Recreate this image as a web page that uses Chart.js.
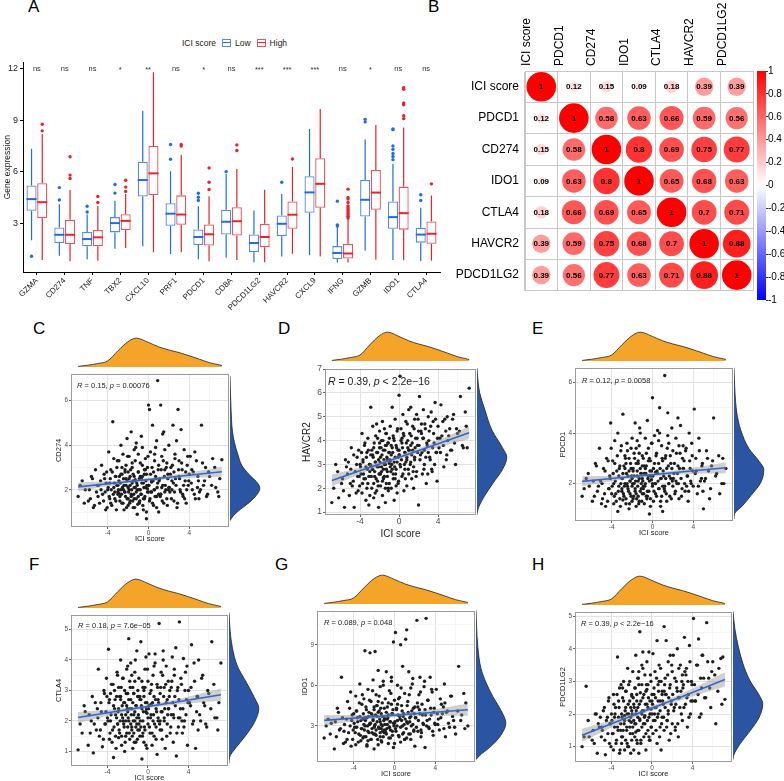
<!DOCTYPE html>
<html>
<head>
<meta charset="utf-8">
<script src="https://cdn.jsdelivr.net/npm/chart.js@4.4.1/dist/chart.umd.min.js"></script>
<style>
  html, body { margin: 0; padding: 0; background: #fff; }
  #page { position: relative; width: 784px; height: 781px; overflow: hidden; font-family: "Liberation Sans", Arial, sans-serif; }
  #page canvas { position: absolute; }
  .tag { position: absolute; font-size: 17px; line-height: 1; color: #000; }
  #legendA { position: absolute; left: 182px; top: 38px; font-size: 8.5px; color: #222; display: flex; align-items: center; white-space: nowrap; }
  .lg-key { display: inline-block; width: 7px; height: 6px; border: 1.2px solid; margin: 0 4px 0 6px;
            background: linear-gradient(currentColor, currentColor) center / 100% 1.2px no-repeat; }
</style>
</head>
<body>
<div id="page">
  <div class="tag" style="left:28px;top:-2px">A</div>
  <div class="tag" style="left:428px;top:-2px">B</div>
  <div class="tag" style="left:33px;top:320px">C</div>
  <div class="tag" style="left:278px;top:320px">D</div>
  <div class="tag" style="left:532px;top:320px">E</div>
  <div class="tag" style="left:29px;top:556px">F</div>
  <div class="tag" style="left:275px;top:556px">G</div>
  <div class="tag" style="left:532px;top:556px">H</div>
  <div id="legendA">
    <span>ICI score</span>
    <span class="lg-key" style="color:#1f6de6;border-color:#4d8ef0"></span><span>Low</span>
    <span class="lg-key" style="color:#e8232b;border-color:#ef5056"></span><span>High</span>
  </div>
</div>
<script>
  // ---------- panel A: expression boxplots ----------
  var genes = ['GZMA', 'CD274', 'TNF', 'TBX2', 'CXCL10', 'PRF1', 'PDCD1', 'CD8A',
               'PDCD1LG2', 'HAVCR2', 'CXCL9', 'IFNG', 'GZMB', 'IDO1', 'CTLA4'];
  var signif = ['ns', 'ns', 'ns', '*', '**', 'ns', '*', 'ns', '***', '***', '***', 'ns', '*', 'ns', 'ns'];
  // [lower whisker, q1, median, q3, upper whisker]
  var lowStats = [
    [2.0, 3.72, 4.4, 5.19, 7.33], [1.1, 1.84, 2.32, 2.75, 4.1], [0.9, 1.65, 2.07, 2.48, 3.5],
    [1.5, 2.46, 3.0, 3.35, 4.3], [1.65, 4.55, 5.51, 6.58, 9.55], [1.2, 2.84, 3.55, 4.16, 6.03],
    [0.9, 1.72, 2.19, 2.63, 3.99], [1.0, 2.34, 3.08, 3.78, 5.87], [0.72, 1.32, 1.84, 2.34, 3.74],
    [1.06, 2.24, 2.96, 3.45, 4.7], [1.12, 3.6, 4.79, 5.73, 8.49], [0.7, 0.91, 1.26, 1.66, 2.77],
    [1.41, 3.39, 4.36, 5.52, 7.88], [0.85, 2.67, 3.35, 4.26, 6.45], [0.79, 1.86, 2.33, 2.73, 3.9]
  ];
  var highStats = [
    [0.85, 3.29, 4.22, 5.32, 8.2], [0.78, 1.78, 2.32, 3.19, 4.93], [0.8, 1.65, 2.17, 2.6, 4.0],
    [1.55, 2.6, 3.13, 3.52, 4.7], [1.3, 4.64, 5.9, 7.5, 11.8], [1.3, 2.9, 3.5, 4.62, 6.98],
    [0.77, 1.69, 2.35, 2.92, 4.57], [0.85, 2.28, 3.11, 3.93, 6.16], [0.72, 1.6, 2.19, 2.96, 4.94],
    [1.22, 2.67, 3.49, 4.26, 6.27], [1.05, 3.9, 5.29, 6.78, 9.65], [0.7, 0.93, 1.23, 1.79, 3.25],
    [0.86, 3.78, 4.78, 6.1, 8.72], [0.83, 2.62, 3.58, 5.13, 8.58], [0.8, 1.8, 2.38, 3.1, 4.61]
  ];
  var lowOutliers = [
    [1.07], [4.35, 5.07], [3.65, 3.98], [4.75, 5.25], [], [6.72, 7.58], [4.32, 4.51, 4.74], [6.0],
    [], [5.38], [], [2.83, 2.9, 4.28], [8.9, 9.05], [6.7, 6.88, 7.06, 7.3, 7.5, 8.45, 8.49], [4.32, 4.65]
  ];
  var highOutliers = [
    [8.38, 8.76], [5.6, 5.8, 6.87], [4.2, 4.55], [4.85, 5.1, 5.5], [], [7.5, 7.58], [4.96, 5.38, 6.22],
    [7.23, 7.56], [], [6.74], [], [3.3, 3.4, 3.5, 3.6, 3.7, 3.8, 3.9, 4.0, 4.2, 4.4, 4.5, 4.98], [],
    [9.09, 9.26, 9.9, 10.0, 10.8, 10.9], [5.29]
  ];
  var exprTicks = [3, 6, 9, 12];

  // ---------- panel B: correlation matrix ----------
  var corrNames = ['ICI score', 'PDCD1', 'CD274', 'IDO1', 'CTLA4', 'HAVCR2', 'PDCD1LG2'];
  var corrValues = [
    [1, 0.12, 0.15, 0.09, 0.18, 0.39, 0.39],
    [0.12, 1, 0.58, 0.63, 0.66, 0.59, 0.56],
    [0.15, 0.58, 1, 0.8, 0.69, 0.75, 0.77],
    [0.09, 0.63, 0.8, 1, 0.65, 0.68, 0.63],
    [0.18, 0.66, 0.69, 0.65, 1, 0.7, 0.71],
    [0.39, 0.59, 0.75, 0.68, 0.7, 1, 0.88],
    [0.39, 0.56, 0.77, 0.63, 0.71, 0.88, 1]
  ];
  var colorbarTicks = [-1, -0.8, -0.6, -0.4, -0.2, 0, 0.2, 0.4, 0.6, 0.8, 1];

  // ---------- panels C-H: ICI score vs gene (two batches of samples) ----------
  var iciScore = [
    -6.9, -6.5, -6.2,
    -5.9, -5.6, -5.4, -5.2, -5.1,
    -4.9, -4.8, -4.6, -4.5, -4.3, -4.2, -4.1, -4.0,
    -3.9, -3.8, -3.8, -3.7, -3.6, -3.5, -3.4, -3.4, -3.3, -3.2, -3.2, -3.1, -3.0, -3.0,
    -2.9, -2.9, -2.8, -2.7, -2.7, -2.6, -2.6, -2.5, -2.4, -2.4, -2.3, -2.3, -2.2, -2.2, -2.1, -2.1, -2.0, -2.0, -2.0,
    -1.9, -1.9, -1.8, -1.8, -1.7, -1.7, -1.6, -1.6, -1.5, -1.5, -1.4, -1.4, -1.4, -1.3, -1.3, -1.2, -1.2, -1.1, -1.1, -1.0, -1.0, -1.0,
    -0.9, -0.9, -0.8, -0.8, -0.7, -0.7, -0.6, -0.6, -0.5, -0.5, -0.4, -0.4, -0.3, -0.3, -0.2, -0.2, -0.1, -0.1, 0.0, 0.0,
    0.1, 0.1, 0.2, 0.3, 0.3, 0.4, 0.5, 0.5, 0.6, 0.6, 0.7, 0.8, 0.8, 0.9, 0.9, 1.0, 1.0,
    1.1, 1.2, 1.2, 1.3, 1.4, 1.4, 1.5, 1.6, 1.6, 1.7, 1.8, 1.8, 1.9, 2.0, 2.0,
    2.1, 2.2, 2.3, 2.4, 2.5, 2.5, 2.6, 2.7, 2.8, 2.9, 3.0, 3.0,
    3.1, 3.2, 3.3, 3.4, 3.5, 3.6, 3.7, 3.8, 3.9, 4.0,
    4.1, 4.3, 4.4, 4.6, 4.7, 4.9, 5.0,
    5.2, 5.4, 5.6, 5.8, 6.0,
    6.3, 6.6, 6.9,
    7.0, 7.2
  ];
  var iciScoreB = [
    -6.7, -6.3,
    -5.8, -5.7, -5.5, -5.3, -5.0,
    -4.95, -4.7, -4.65, -4.4, -4.35, -4.25, -4.15, -4.05,
    -3.95, -3.85, -3.75, -3.7, -3.65, -3.55, -3.45, -3.35, -3.3, -3.25, -3.15, -3.1, -3.05, -3.0,
    -2.95, -2.85, -2.8, -2.75, -2.65, -2.6, -2.55, -2.5, -2.45, -2.35, -2.3, -2.25, -2.2, -2.15, -2.1, -2.05, -2.0, -2.45, -2.7, -2.9,
    -1.95, -1.9, -1.85, -1.8, -1.75, -1.7, -1.65, -1.6, -1.55, -1.5, -1.45, -1.4, -1.35, -1.3, -1.25, -1.2, -1.15, -1.1, -1.05, -1.0, -1.6, -1.3,
    -0.95, -0.85, -0.8, -0.75, -0.65, -0.6, -0.55, -0.45, -0.4, -0.35, -0.25, -0.2, -0.15, -0.05, 0.0, -0.7, -0.5, -0.3, -0.1, -0.9,
    0.05, 0.15, 0.2, 0.25, 0.35, 0.4, 0.45, 0.55, 0.6, 0.65, 0.75, 0.8, 0.85, 0.95, 1.0, 0.3, 0.7,
    1.05, 1.15, 1.25, 1.3, 1.35, 1.45, 1.55, 1.6, 1.65, 1.75, 1.85, 1.9, 1.95, 1.5, 1.2,
    2.05, 2.15, 2.25, 2.35, 2.45, 2.55, 2.65, 2.75, 2.85, 2.95, 2.3, 2.6,
    3.05, 3.15, 3.25, 3.45, 3.55, 3.65, 3.75, 3.85, 3.95, 3.35,
    4.2, 4.25, 4.5, 4.55, 4.8, 4.85, 4.95,
    5.1, 5.3, 5.5, 5.7, 5.9,
    6.2, 6.5, 6.8
  ];
  var cd274Expr = [
    1.7, 2.4, 2.0,
    1.5, 2.6, 1.2, 2.9, 1.9,
    2.2, 1.4, 3.1, 1.8, 2.5, 1.1, 2.8, 2.0,
    3.7, 1.6, 2.3, 2.9, 1.3, 5.05, 2.1, 3.4, 1.9, 2.6, 1.5, 3.0, 2.2, 1.8,
    2.4, 3.3, 1.7, 2.0, 4.0, 1.4, 2.7, 3.6, 2.2, 1.1, 2.9, 1.9, 3.1, 2.5, 1.6, 4.3, 2.1, 2.8, 1.3,
    2.0, 3.5, 1.5, 2.6, 4.6, 1.8, 2.3, 3.0, 1.2, 2.7, 3.8, 2.1, 1.6, 2.4, 3.3, 1.9, 4.1, 2.2, 0.9, 2.8, 1.7, 3.6,
    2.5, 1.4, 3.2, 2.0, 4.4, 1.8, 2.6, 3.9, 1.1, 2.3, 2.9, 1.6, 3.4, 2.1, 0.7, 2.7, 1.9, 3.0, 5.8, 2.2,
    5.6, 1.5, 3.7, 2.4, 1.9, 4.9, 2.8, 1.3, 3.3, 2.0, 2.6, 4.2, 1.7, 6.9, 2.3, 3.1, 1.0,
    2.5, 5.8, 1.8, 3.5, 2.2, 4.5, 1.4, 2.9, 3.8, 2.0, 1.6, 3.2, 2.7, 4.0, 2.1,
    1.9, 3.0, 2.4, 4.9, 1.5, 2.8, 3.6, 2.2, 1.2, 5.6, 2.6, 3.3,
    2.0, 4.7, 2.9, 1.7, 3.8, 2.4, 1.4, 3.1, 2.2, 2.7,
    3.5, 2.0, 2.8, 1.6, 3.3, 2.4, 1.9,
    4.9, 2.2, 3.0, 1.8, 2.6,
    3.4, 2.1, 1.7,
    2.5, 3.35
  ];
  var cd274ExprB = [
    2.2, 1.4,
    2.0, 1.6, 2.5, 1.3, 2.2,
    1.7, 2.4, 2.0, 1.5, 2.7, 1.9, 2.3, 1.2,
    2.1, 1.7, 2.5, 1.4, 2.0, 2.8, 1.8, 2.3, 1.6, 2.6, 1.1, 2.2, 3.3, 1.9,
    2.0, 2.6, 1.5, 2.3, 1.8, 3.0, 2.1, 1.4, 2.5, 1.9, 2.8, 1.7, 2.2, 1.2, 2.4, 3.5, 1.6, 2.0, 2.7, 1.85,
    1.9, 2.5, 1.4, 2.2, 2.9, 1.7, 2.0, 3.2, 1.5, 2.4, 1.8, 2.6, 1.2, 2.1, 3.9, 1.6, 2.3, 2.0, 1.35, 2.8, 1.75, 2.45,
    2.0, 1.5, 2.6, 1.8, 2.3, 3.1, 1.3, 2.1, 2.7, 1.7, 2.4, 1.0, 2.2, 3.5, 1.9, 2.5, 1.6, 2.9, 2.05, 1.45,
    2.2, 1.6, 2.7, 1.9, 3.0, 1.4, 2.4, 2.0, 3.6, 1.7, 2.5, 1.2, 2.1, 2.9, 1.8, 2.35, 3.9,
    2.4, 1.7, 2.9, 2.1, 1.5, 3.3, 2.6, 1.9, 2.2, 3.0, 1.3, 2.5, 2.0, 4.6, 1.8,
    2.1, 2.7, 1.6, 3.1, 2.3, 1.9, 2.5, 4.2, 1.4, 2.9, 2.0, 3.4,
    2.5, 1.9, 3.2, 2.2, 1.6, 2.8, 2.0, 3.5, 2.4, 1.8,
    2.3, 2.9, 1.8, 3.7, 2.1, 2.6, 1.6,
    2.0, 3.2, 2.4, 1.7, 2.8,
    2.2, 3.0, 1.9
  ];
  var havcr2Expr = [
    1.4, 3.0, 1.6,
    2.2, 1.2, 2.9, 3.1, 1.7,
    3.7, 2.1, 1.2, 2.7, 3.3, 1.9, 2.5, 3.0,
    2.6, 4.3, 1.8, 3.2, 2.4, 3.9, 1.5, 2.9, 3.5, 2.2, 4.1, 1.3, 3.0, 2.7,
    3.4, 5.4, 2.0, 4.6, 2.8, 1.6, 3.7, 2.5, 4.2, 3.1, 1.9, 4.7, 2.3, 3.5, 1.2, 2.9, 3.9, 2.6, 4.4,
    3.3, 2.1, 4.0, 2.7, 4.8, 1.7, 3.6, 2.4, 3.0, 4.5, 2.0, 3.8, 1.4, 2.8, 4.3, 3.2, 2.5, 3.9, 1.9, 3.5, 2.2, 4.1,
    2.9, 4.6, 3.4, 2.0, 5.4, 3.7, 2.6, 4.2, 1.5, 3.1, 4.9, 2.4, 3.8, 2.8, 1.8, 4.4, 3.3, 2.2, 5.9, 3.6,
    6.7, 3.0, 4.5, 2.5, 3.9, 5.1, 1.9, 4.2, 3.5, 2.8, 4.8, 3.2, 2.1, 4.0, 3.7, 5.3, 2.6,
    4.3, 3.1, 5.4, 2.4, 4.6, 3.6, 2.0, 4.9, 3.3, 4.1, 2.7, 5.1, 3.8, 1.3, 4.4,
    5.85, 3.4, 4.7, 2.6, 4.1, 5.3, 3.0, 4.5, 2.2, 3.8, 5.0, 3.5,
    4.4, 3.2, 5.2, 2.7, 4.8, 3.9, 5.6, 3.5, 2.3, 4.6,
    3.7, 5.5, 4.2, 2.9, 4.9, 3.4, 4.0,
    4.5, 3.6, 5.1, 3.0, 4.3,
    5.85, 3.7, 4.6,
    3.7, 6.2
  ];
  var havcr2ExprB = [
    2.0, 2.7,
    2.4, 1.9, 3.2, 2.6, 2.2,
    2.8, 2.3, 3.4, 1.8, 3.0, 2.5, 3.6, 2.1,
    2.9, 3.5, 2.2, 3.1, 2.6, 3.8, 2.4, 3.3, 2.0, 2.8, 3.6, 2.5, 3.0, 1.7,
    3.0, 2.5, 3.6, 2.8, 3.3, 2.2, 3.9, 2.7, 3.1, 2.4, 3.5, 2.9, 4.1, 2.1, 3.2, 2.6, 3.7, 1.8, 3.4, 2.95,
    3.1, 2.6, 3.7, 2.9, 3.4, 2.3, 4.0, 2.8, 3.2, 2.5, 3.6, 3.0, 4.3, 2.2, 3.3, 2.7, 3.9, 2.0, 3.5, 3.05, 2.45, 3.8,
    3.2, 2.7, 3.8, 3.0, 3.5, 2.4, 4.1, 2.9, 3.3, 2.6, 3.7, 3.1, 4.5, 2.3, 3.4, 2.8, 4.0, 2.1, 3.6, 3.15,
    3.4, 2.9, 4.0, 3.2, 3.7, 2.6, 4.3, 3.0, 3.5, 2.4, 3.9, 3.3, 4.7, 2.8, 3.6, 4.1, 3.1,
    3.6, 3.0, 4.2, 3.4, 3.9, 2.7, 4.5, 3.2, 3.7, 2.5, 4.1, 3.5, 4.9, 2.9, 3.8,
    3.8, 3.2, 4.4, 3.5, 4.1, 2.8, 4.7, 3.3, 3.9, 2.6, 4.3, 3.6,
    4.0, 3.3, 4.6, 3.7, 4.3, 3.0, 4.9, 3.5, 4.1, 2.8,
    4.1, 3.5, 4.8, 3.8, 4.4, 3.2, 5.0,
    4.2, 3.6, 4.9, 3.9, 4.5,
    4.4, 3.8, 5.2
  ];
  var pdcd1Expr = [
    1.5, 2.2, 1.9,
    1.3, 2.8, 1.7, 3.4, 2.1,
    1.4, 2.6, 1.1, 3.0, 1.8, 2.3, 4.4, 1.6,
    2.9, 1.2, 2.0, 3.7, 1.6, 2.5, 0.9, 4.0, 1.9, 2.7, 1.4, 3.3, 2.2, 1.7,
    4.75, 2.4, 1.5, 3.1, 2.0, 1.2, 2.8, 3.6, 1.8, 2.3, 1.0, 3.0, 2.1, 1.6, 2.6, 3.4, 1.3, 2.2, 1.9,
    2.5, 1.4, 3.2, 2.0, 4.4, 1.7, 2.8, 1.1, 3.7, 2.3, 1.5, 2.9, 2.1, 3.5, 1.3, 2.6, 4.0, 1.8, 2.4, 3.1, 1.6, 2.2,
    1.9, 3.0, 2.4, 1.2, 3.8, 2.0, 1.5, 2.7, 4.5, 1.7, 2.3, 3.4, 0.8, 2.1, 2.9, 1.4, 3.6, 2.5, 5.4, 1.9,
    2.6, 1.3, 3.9, 2.0, 1.6, 3.2, 2.4, 4.1, 1.8, 2.8, 5.0, 1.1, 2.2, 3.5, 1.5, 2.9, 0.9,
    2.3, 6.28, 1.7, 3.1, 2.6, 1.3, 4.8, 2.0, 3.6, 1.5, 2.8, 2.2, 4.2, 1.9, 3.3,
    2.4, 1.6, 3.8, 2.0, 4.6, 2.7, 1.4, 3.2, 2.2, 1.8, 3.5, 2.6,
    2.9, 1.7, 3.4, 2.3, 1.3, 4.0, 2.6, 2.0, 3.1, 1.9,
    4.95, 2.5, 1.6, 3.3, 2.1, 2.8, 1.0,
    2.2, 3.0, 1.4, 2.7, 4.6,
    2.4, 1.6, 3.0,
    2.0, 2.6
  ];
  var pdcd1ExprB = [
    1.8, 2.4,
    2.1, 1.5, 2.7, 1.9, 1.2,
    2.0, 1.6, 2.5, 1.3, 2.9, 1.8, 2.2, 3.4,
    1.9, 2.4, 1.5, 2.8, 2.1, 1.3, 3.1, 1.7, 2.3, 2.6, 1.1, 2.0, 3.5, 1.8,
    2.2, 1.6, 2.7, 1.9, 3.0, 1.4, 2.4, 2.0, 3.3, 1.7, 2.5, 1.2, 2.1, 2.8, 1.5, 2.3, 3.8, 1.9, 2.6, 1.35,
    2.0, 2.6, 1.5, 2.3, 3.0, 1.8, 2.1, 3.4, 1.4, 2.5, 1.9, 2.8, 1.2, 2.2, 4.2, 1.7, 2.4, 2.0, 1.3, 2.7, 1.6, 3.2,
    2.1, 1.6, 2.7, 1.9, 2.4, 3.2, 1.4, 2.2, 2.9, 1.7, 2.5, 1.1, 2.3, 3.6, 2.0, 2.6, 1.5, 3.0, 2.15, 1.8,
    2.3, 1.7, 2.8, 2.0, 3.1, 1.5, 2.5, 2.1, 3.7, 1.8, 2.6, 1.3, 2.2, 3.0, 1.9, 2.45, 4.0,
    2.5, 1.8, 3.0, 2.2, 1.6, 3.4, 2.7, 2.0, 2.3, 3.1, 1.4, 2.6, 2.1, 3.9, 1.9,
    2.2, 2.8, 1.7, 3.2, 2.4, 2.0, 2.6, 4.3, 1.5, 3.0, 2.1, 3.5,
    2.6, 2.0, 3.3, 2.3, 1.7, 2.9, 2.1, 3.6, 2.5, 1.9,
    2.4, 3.0, 1.9, 3.8, 2.2, 2.7, 1.7,
    2.1, 3.3, 2.5, 1.8, 2.9,
    2.3, 3.1, 2.0
  ];
  var ctla4Expr = [
    1.05, 1.6, 2.3,
    1.2, 2.0, 0.95, 2.6, 1.7,
    3.7, 1.5, 2.3, 1.15, 2.9, 1.9, 3.4, 2.1,
    4.35, 1.4, 2.7, 2.0, 3.2, 1.7, 2.5, 0.8, 3.0, 2.2, 1.5, 2.8, 3.5, 1.9,
    2.4, 3.1, 1.6, 2.8, 4.0, 1.2, 2.2, 3.4, 1.9, 2.6, 1.0, 3.0, 2.0, 1.5, 3.7, 2.5, 1.8, 2.9, 2.3,
    4.7, 2.0, 3.3, 1.4, 2.7, 3.9, 1.8, 2.4, 1.1, 3.1, 2.2, 1.6, 2.9, 3.6, 2.0, 1.3, 2.5, 4.3, 1.9, 2.8, 1.7, 3.0,
    2.1, 3.4, 1.5, 2.7, 4.6, 1.8, 2.4, 0.75, 3.1, 2.0, 1.3, 2.8, 3.7, 1.7, 2.3, 4.1, 1.1, 2.6, 1.9, 3.3,
    2.5, 4.2, 1.6, 3.0, 2.2, 1.2, 3.5, 2.0, 1.5, 2.8, 3.9, 1.8, 2.4, 3.2, 0.9, 2.1, 2.7,
    5.2, 1.7, 2.9, 3.6, 2.3, 1.4, 4.3, 2.0, 3.1, 1.1, 2.6, 3.8, 1.9, 2.4, 3.3,
    2.8, 1.6, 3.1, 4.1, 2.2, 1.3, 3.5, 2.5, 0.85, 3.0, 2.1, 1.8,
    5.25, 2.4, 3.2, 1.6, 4.05, 2.0, 3.6, 2.7, 1.2, 3.0,
    2.6, 4.5, 1.9, 3.3, 1.1, 2.8, 4.0,
    2.0, 3.5, 2.5, 1.8, 2.9,
    4.6, 2.1, 1.7,
    2.6, 3.9
  ];
  var ctla4ExprB = [
    1.9, 2.5,
    2.2, 1.6, 2.8, 1.9, 2.4,
    2.1, 1.7, 2.6, 1.4, 3.0, 1.9, 2.3, 2.8,
    2.0, 2.6, 1.6, 2.9, 2.2, 1.3, 3.2, 1.8, 2.4, 2.7, 1.1, 2.1, 3.6, 1.9,
    2.3, 1.7, 2.8, 2.0, 3.1, 1.5, 2.5, 2.1, 3.4, 1.8, 2.6, 1.3, 2.2, 2.9, 1.6, 2.4, 3.8, 2.0, 2.7, 1.45,
    2.1, 2.7, 1.6, 2.4, 3.1, 1.9, 2.2, 3.5, 1.5, 2.6, 2.0, 2.9, 1.3, 2.3, 4.0, 1.8, 2.5, 2.1, 1.4, 2.8, 1.7, 3.3,
    2.2, 1.7, 2.8, 2.0, 2.5, 3.3, 1.5, 2.3, 3.0, 1.8, 2.6, 1.2, 2.4, 3.7, 2.1, 2.7, 1.6, 3.1, 2.25, 1.9,
    2.4, 1.8, 2.9, 2.1, 3.2, 1.6, 2.6, 2.2, 3.8, 1.9, 2.7, 1.4, 2.3, 3.1, 2.0, 2.55, 4.2,
    2.6, 1.9, 3.1, 2.3, 1.7, 3.5, 2.8, 2.1, 2.4, 3.2, 1.5, 2.7, 2.2, 4.0, 2.0,
    2.4, 3.0, 1.8, 3.3, 2.6, 2.1, 2.8, 4.4, 1.6, 3.1, 2.2, 3.7,
    2.7, 2.1, 3.4, 2.4, 1.8, 3.0, 2.2, 3.8, 2.6, 2.0,
    2.5, 3.1, 2.0, 3.9, 2.3, 2.8, 1.7,
    2.2, 3.4, 2.6, 1.9, 3.0,
    2.4, 3.2, 2.1
  ];
  var ido1Expr = [
    2.1, 3.5, 3.2,
    1.3, 4.3, 2.7, 6.6, 3.6,
    3.1, 1.8, 4.8, 2.5, 5.5, 3.4, 2.0, 3.9,
    2.9, 5.2, 1.6, 4.1, 3.3, 2.4, 6.1, 3.7, 1.9, 4.6, 2.8, 3.5, 5.0, 2.2,
    8.55, 3.0, 4.4, 1.5, 3.6, 5.7, 2.6, 4.0, 8.4, 3.2, 2.0, 4.8, 3.8, 2.5, 6.4, 3.4, 1.3, 4.2, 2.9,
    8.5, 3.1, 5.3, 2.3, 4.5, 3.7, 1.6, 7.1, 2.8, 4.1, 3.3, 5.9, 2.5, 3.9, 1.9, 4.7, 3.0, 6.3, 2.2, 3.6, 4.3, 2.7,
    3.5, 5.0, 2.4, 7.0, 3.1, 4.4, 1.7, 3.8, 2.9, 5.6, 3.3, 2.1, 4.6, 6.6, 2.6, 3.9, 1.4, 9.2, 3.2, 4.9,
    9.9, 2.8, 4.2, 3.4, 6.0, 2.3, 5.1, 3.7, 9.0, 1.8, 4.5, 3.0, 7.4, 2.5, 3.9, 5.4, 2.0,
    9.4, 10.1, 3.3, 4.8, 2.4, 7.0, 3.6, 5.8, 2.0, 4.1, 3.1, 6.5, 2.7, 4.4, 1.5,
    3.6, 10.8, 2.6, 5.3, 3.9, 6.6, 2.2, 4.6, 3.2, 5.9, 1.4, 4.2,
    10.95, 3.4, 4.9, 2.8, 6.6, 3.8, 5.5, 2.3, 4.3, 3.1,
    5.7, 3.5, 2.7, 4.6, 3.9, 6.1, 2.2,
    4.1, 2.9, 5.2, 3.4, 2.4,
    7.4, 3.8, 2.8,
    4.7, 3.0
  ];
  var ido1ExprB = [
    3.0, 2.4,
    3.3, 2.2, 4.0, 2.8, 1.7,
    2.6, 3.5, 2.0, 4.3, 3.0, 1.5, 3.8, 2.7,
    3.2, 2.5, 4.1, 2.9, 3.6, 1.8, 4.7, 2.3, 3.4, 2.8, 5.3, 2.1, 3.9, 3.1,
    2.7, 3.4, 2.2, 4.2, 3.0, 1.9, 3.7, 2.5, 4.9, 3.2, 2.0, 3.9, 2.8, 5.6, 3.5, 2.4, 4.4, 3.1, 1.6, 3.6,
    3.0, 2.4, 3.8, 2.7, 4.5, 3.3, 2.0, 4.0, 2.9, 5.2, 3.5, 2.2, 4.3, 3.1, 1.8, 3.7, 2.6, 6.0, 3.4, 2.5, 4.8, 2.8,
    3.1, 2.5, 4.0, 2.8, 3.6, 4.7, 2.1, 3.3, 2.7, 5.4, 3.9, 2.3, 4.2, 3.0, 1.7, 3.5, 2.9, 6.3, 3.2, 2.6,
    3.3, 2.6, 4.3, 3.0, 3.8, 5.0, 2.2, 3.5, 2.9, 5.8, 4.1, 2.4, 3.7, 3.1, 2.0, 4.6, 3.4,
    3.5, 2.8, 4.5, 3.2, 4.0, 5.3, 2.4, 3.7, 3.0, 6.1, 4.3, 2.6, 3.9, 3.3, 2.1,
    3.6, 2.9, 4.7, 3.4, 4.2, 5.5, 2.5, 3.8, 3.1, 6.3, 4.4, 2.7,
    3.8, 3.0, 4.9, 3.5, 4.3, 5.7, 2.6, 4.0, 3.2, 2.9,
    3.9, 3.1, 5.0, 3.6, 4.4, 2.8, 4.7,
    4.0, 3.2, 5.2, 3.7, 2.9,
    4.1, 3.4, 5.4
  ];
  var pdcd1lg2Expr = [
    1.0, 2.85, 1.3,
    1.2, 2.0, 0.8, 1.6, 1.9,
    1.5, 2.1, 0.75, 1.8, 2.4, 1.1, 1.7, 2.0,
    1.4, 2.6, 0.9, 1.9, 2.2, 1.2, 3.75, 1.6, 2.4, 0.8, 2.8, 1.5, 2.0, 1.1,
    2.5, 1.3, 3.0, 1.8, 0.9, 2.2, 2.7, 1.5, 3.4, 1.0, 2.0, 2.9, 1.6, 2.4, 0.8, 1.9, 2.6, 1.2, 2.1,
    3.3, 1.4, 2.3, 0.9, 2.8, 1.7, 3.8, 2.0, 1.2, 2.6, 1.5, 3.1, 2.2, 0.8, 2.9, 1.8, 4.52, 2.4, 1.1, 2.0, 3.5, 1.6,
    2.5, 3.9, 1.3, 2.1, 3.2, 1.7, 2.7, 0.9, 3.6, 2.3, 1.5, 2.9, 1.9, 3.9, 1.2, 2.4, 3.0, 1.6, 2.0, 2.6,
    3.85, 1.4, 2.6, 3.3, 1.8, 2.2, 4.25, 1.1, 2.9, 2.0, 3.5, 1.6, 2.4, 0.9, 3.0, 2.7, 1.9,
    2.3, 4.68, 1.5, 3.1, 2.6, 4.25, 1.8, 3.6, 2.1, 1.2, 2.9, 3.8, 2.4, 1.7, 3.3,
    3.8, 2.2, 1.6, 3.0, 2.7, 4.0, 1.3, 2.5, 3.5, 2.0, 1.8, 3.2,
    2.9, 4.35, 2.3, 3.4, 1.6, 2.6, 4.1, 2.0, 3.0, 2.4,
    4.93, 2.4, 3.5, 4.3, 1.9, 2.8, 3.8,
    2.5, 4.8, 3.1, 2.2, 3.6,
    1.7, 3.4, 2.3,
    3.75, 2.45
  ];
  var pdcd1lg2ExprB = [
    1.3, 1.8,
    1.5, 1.1, 2.0, 1.7, 1.3,
    1.6, 2.2, 1.2, 1.9, 1.4, 2.5, 1.7, 1.0,
    1.8, 1.4, 2.3, 1.6, 2.0, 1.1, 2.6, 1.5, 1.9, 2.2, 0.9, 1.7, 2.9, 1.3,
    1.9, 1.5, 2.4, 1.7, 2.1, 1.2, 2.7, 1.6, 2.0, 2.3, 1.0, 1.8, 3.0, 1.4, 2.2, 1.75, 2.55, 1.1, 1.95, 2.8,
    2.0, 1.6, 2.5, 1.8, 2.2, 1.3, 2.8, 1.7, 2.1, 2.4, 1.1, 1.9, 3.1, 1.5, 2.3, 1.85, 2.65, 1.2, 2.05, 2.9, 1.45, 3.3,
    2.1, 1.7, 2.6, 1.9, 2.3, 1.4, 2.9, 1.8, 2.2, 2.5, 1.2, 2.0, 3.2, 1.6, 2.4, 1.95, 2.75, 1.3, 2.15, 3.4,
    2.3, 1.8, 2.8, 2.0, 2.5, 1.5, 3.1, 1.9, 2.4, 2.7, 1.3, 2.1, 3.4, 1.7, 2.6, 2.2, 3.0,
    2.4, 1.9, 2.9, 2.2, 2.6, 1.6, 3.2, 2.0, 2.5, 2.8, 1.4, 2.3, 3.5, 1.8, 2.7,
    2.6, 2.1, 3.1, 2.3, 2.8, 1.7, 3.4, 2.2, 2.7, 3.0, 1.5, 2.5,
    2.8, 2.2, 3.3, 2.5, 3.0, 1.9, 3.6, 2.4, 2.9, 3.2,
    2.9, 2.4, 3.5, 2.6, 3.1, 2.0, 3.8,
    3.1, 2.5, 3.6, 2.8, 3.3,
    3.2, 2.7, 3.7
  ];

  // marginal densities (relative height)
  var iciGrid = [-6.9, -6, -5, -4, -3, -2, -1.2, 0, 1, 2, 3, 4, 5, 6, 7, 7.2];
  var iciDensity = [0.02, 0.06, 0.12, 0.21, 0.56, 0.88, 1.0, 0.85, 0.7, 0.59, 0.5, 0.39, 0.27, 0.15, 0.07, 0.05];
  var cd274Grid = [0.6, 0.8, 1.1, 1.4, 1.7, 2.0, 2.2, 2.6, 3.0, 3.5, 4.0, 4.5, 5.0, 6.0, 6.9];
  var cd274Density = [0, 0.1, 0.35, 0.65, 0.88, 1.0, 0.95, 0.65, 0.4, 0.26, 0.15, 0.08, 0.05, 0.02, 0];
  var havcr2Grid = [0.9, 1.1, 1.6, 2.2, 2.7, 3.2, 3.6, 4.3, 5.1, 5.8, 6.2, 6.8];
  var havcr2Density = [0, 0.03, 0.23, 0.56, 0.85, 1.0, 0.85, 0.5, 0.27, 0.09, 0.04, 0];
  var pdcd1Grid = [0.6, 0.8, 1.1, 1.5, 2.0, 2.5, 2.8, 3.3, 4.0, 4.7, 5.5, 6.4];
  var pdcd1Density = [0, 0.02, 0.28, 0.57, 0.9, 1.0, 0.85, 0.5, 0.23, 0.09, 0.03, 0];
  var ctla4Grid = [0.6, 0.8, 1.1, 1.5, 1.9, 2.35, 2.7, 3.2, 3.7, 4.3, 4.8, 5.4];
  var ctla4Density = [0, 0.02, 0.23, 0.57, 0.85, 1.0, 0.85, 0.57, 0.28, 0.11, 0.04, 0];
  var ido1Grid = [0.5, 0.75, 1.45, 2.2, 3.1, 4.1, 5.0, 6.0, 7.0, 8.6, 10.0, 11.2];
  var ido1Density = [0, 0.1, 0.5, 0.82, 1.0, 0.82, 0.57, 0.34, 0.17, 0.06, 0.02, 0];
  var pdcd1lg2Grid = [0.6, 0.72, 1.07, 1.47, 1.86, 2.26, 2.45, 2.96, 3.46, 3.95, 4.5, 5.0];
  var pdcd1lg2Density = [0, 0.02, 0.24, 0.59, 0.88, 1.0, 0.92, 0.56, 0.33, 0.18, 0.06, 0];

  // fitted line and 95% band, sampled at fitX
  var fitX = [-6.9, -3.5, -0.5, 3, 7.2];
  var cd274Fit = [2.13, 2.29, 2.44, 2.61, 2.81];
  var cd274Upper = [2.33, 2.39, 2.51, 2.71, 3.03];
  var cd274Lower = [1.93, 2.19, 2.37, 2.51, 2.59];
  var havcr2Fit = [2.33, 2.81, 3.23, 3.72, 4.33];
  var havcr2Upper = [2.58, 2.94, 3.31, 3.84, 4.59];
  var havcr2Lower = [2.08, 2.68, 3.15, 3.6, 4.07];
  var pdcd1Fit = [2.09, 2.22, 2.33, 2.47, 2.63];
  var pdcd1Upper = [2.29, 2.32, 2.4, 2.57, 2.85];
  var pdcd1Lower = [1.89, 2.12, 2.26, 2.37, 2.41];
  var ctla4Fit = [2.11, 2.29, 2.45, 2.63, 2.86];
  var ctla4Upper = [2.29, 2.38, 2.51, 2.72, 3.06];
  var ctla4Lower = [1.93, 2.2, 2.39, 2.54, 2.66];
  var ido1Fit = [3.41, 3.6, 3.76, 3.95, 4.19];
  var ido1Upper = [3.81, 3.8, 3.9, 4.15, 4.64];
  var ido1Lower = [3.01, 3.4, 3.62, 3.75, 3.74];
  var pdcd1lg2Fit = [1.35, 1.76, 2.12, 2.54, 3.06];
  var pdcd1lg2Upper = [1.55, 1.86, 2.19, 2.64, 3.28];
  var pdcd1lg2Lower = [1.15, 1.66, 2.05, 2.44, 2.84];

  var colors = {
    low: '#1f6de6', lowBox: 'rgba(31,109,230,0.78)',
    high: '#e8232b', highBox: 'rgba(232,35,43,0.78)',
    orange: '#f5a42a', navy: '#2b55a3',
    fitLine: '#3366cc', band: 'rgba(150,150,150,0.45)',
    point: '#1e1e1e', frame: '#9a9a9a'
  };
  var FONT = '"Liberation Sans", Arial, sans-serif';

  Chart.defaults.font.family = FONT;
  Chart.defaults.animation = false;
  Chart.defaults.responsive = false;
  Chart.defaults.events = [];
  Chart.defaults.layout.autoPadding = false;
  Chart.defaults.plugins.legend.display = false;
  Chart.defaults.plugins.tooltip.enabled = false;

  function makeCanvas(left, top, width, height) {
    var c = document.createElement('canvas');
    c.width = width;
    c.height = height;
    c.style.left = left + 'px';
    c.style.top = top + 'px';
    c.style.width = width + 'px';
    c.style.height = height + 'px';
    document.getElementById('page').appendChild(c);
    return c;
  }

  function isMajor(v, step) {
    return Math.abs(v / step - Math.round(v / step)) < 1e-6;
  }

  // ---------- A ----------
  var boxParts = {
    id: 'boxParts',
    afterDatasetsDraw: function (chart) {
      var ctx = chart.ctx, y = chart.scales.y, x = chart.scales.x;
      var groups = [[lowStats, lowOutliers, colors.low], [highStats, highOutliers, colors.high]];
      groups.forEach(function (g, di) {
        chart.getDatasetMeta(di).data.forEach(function (bar, i) {
          var s = g[0][i], half = bar.width / 2;
          ctx.save();
          ctx.strokeStyle = g[2];
          ctx.lineWidth = 1.2;
          ctx.beginPath();
          ctx.moveTo(bar.x, y.getPixelForValue(s[3]));
          ctx.lineTo(bar.x, y.getPixelForValue(s[4]));
          ctx.moveTo(bar.x, y.getPixelForValue(s[0]));
          ctx.lineTo(bar.x, y.getPixelForValue(s[1]));
          ctx.stroke();
          ctx.lineWidth = 2;
          ctx.beginPath();
          ctx.moveTo(bar.x - half, y.getPixelForValue(s[2]));
          ctx.lineTo(bar.x + half, y.getPixelForValue(s[2]));
          ctx.stroke();
          ctx.fillStyle = g[2];
          g[1][i].forEach(function (v) {
            ctx.beginPath();
            ctx.arc(bar.x, y.getPixelForValue(v), 1.7, 0, Math.PI * 2);
            ctx.fill();
          });
          ctx.restore();
        });
      });
      ctx.save();
      ctx.fillStyle = '#333';
      ctx.font = '7.5px ' + FONT;
      ctx.textAlign = 'center';
      ctx.textBaseline = 'middle';
      signif.forEach(function (t, i) {
        var yy = y.getPixelForValue(12) + (t.charAt(0) === '*' ? 1.5 : 0);
        ctx.fillText(t, x.getPixelForValue(i), yy);
      });
      ctx.restore();
    }
  };

  new Chart(makeCanvas(0, 55, 445, 257), {
    type: 'bar',
    data: {
      labels: genes,
      datasets: [
        { label: 'Low', data: lowStats.map(function (s) { return [s[1], s[3]]; }),
          backgroundColor: '#fff', borderColor: colors.lowBox, borderWidth: 1.3, borderSkipped: false,
          categoryPercentage: 0.77, barPercentage: 0.94 },
        { label: 'High', data: highStats.map(function (s) { return [s[1], s[3]]; }),
          backgroundColor: '#fff', borderColor: colors.highBox, borderWidth: 1.3, borderSkipped: false,
          categoryPercentage: 0.77, barPercentage: 0.94 }
      ]
    },
    options: {
      layout: { padding: { top: 7, right: 5 } },
      scales: {
        x: {
          grid: { display: true, drawOnChartArea: false, offset: false, tickLength: 3, color: '#000' },
          border: { color: '#000' },
          ticks: { minRotation: 45, maxRotation: 45, autoSkip: false, padding: 1, font: { size: 8 }, color: '#222' },
          afterFit: function (s) { s.height = 40; }
        },
        y: {
          min: 0.15, max: 12.37,
          afterBuildTicks: function (s) { s.ticks = exprTicks.map(function (v) { return { value: v }; }); },
          grid: { display: true, drawOnChartArea: false, tickLength: 3, color: '#000' },
          border: { color: '#000' },
          ticks: { font: { size: 9 }, color: '#222', padding: 2 },
          title: { display: true, text: 'Gene expression', font: { size: 8.5 }, color: '#222', padding: { top: 3, bottom: 0 } },
          afterFit: function (s) { s.width = 23; }
        }
      }
    },
    plugins: [boxParts]
  });

  // ---------- B ----------
  function corrColor(v) {
    var t = Math.round(255 * (1 - Math.abs(v)));
    return v >= 0 ? 'rgb(255,' + t + ',' + t + ')' : 'rgb(' + t + ',' + t + ',255)';
  }

  var bubbles = [];
  corrValues.forEach(function (row, i) {
    row.forEach(function (v, j) {
      bubbles.push({ x: corrNames[j], y: corrNames[i], r: Math.sqrt(Math.abs(v)) * 14.8, v: v });
    });
  });

  var bubbleText = {
    id: 'bubbleText',
    afterDatasetsDraw: function (chart) {
      var ctx = chart.ctx;
      ctx.save();
      ctx.fillStyle = '#000';
      ctx.font = 'bold 8px ' + FONT;
      ctx.textAlign = 'center';
      ctx.textBaseline = 'middle';
      chart.getDatasetMeta(0).data.forEach(function (el, i) {
        ctx.fillText(String(bubbles[i].v), el.x, el.y + 0.5);
      });
      ctx.restore();
    }
  };

  new Chart(makeCanvas(440, 0, 316, 304), {
    type: 'bubble',
    data: {
      datasets: [{
        data: bubbles,
        backgroundColor: function (c) { return c.raw ? corrColor(c.raw.v) : '#fff'; },
        borderWidth: 0
      }]
    },
    options: {
      layout: { padding: { right: 3, bottom: 4 } },
      scales: {
        x: {
          type: 'category', labels: corrNames, position: 'top', offset: true,
          grid: { offset: true, color: '#c8c8c8', drawTicks: false },
          border: { color: '#c8c8c8' },
          ticks: { minRotation: 90, maxRotation: 90, autoSkip: false, padding: 5, font: { size: 12 }, color: '#000' },
          afterFit: function (s) { s.height = 71; }
        },
        y: {
          type: 'category', labels: corrNames, offset: true,
          grid: { offset: true, color: '#c8c8c8', drawTicks: false },
          border: { color: '#c8c8c8' },
          ticks: { autoSkip: false, padding: 6, font: { size: 12 }, color: '#000' },
          afterFit: function (s) { s.width = 85; }
        }
      }
    },
    plugins: [bubbleText]
  });

  new Chart(makeCanvas(757, 65, 27, 241), {
    type: 'bar',
    data: {
      labels: ['r'],
      datasets: [{
        data: [[-1, 1]],
        backgroundColor: function (c) {
          var area = c.chart.chartArea;
          if (!area) return '#fff';
          var g = c.chart.ctx.createLinearGradient(0, area.bottom, 0, area.top);
          g.addColorStop(0, '#0000ff');
          g.addColorStop(0.5, '#ffffff');
          g.addColorStop(1, '#ff0000');
          return g;
        },
        borderWidth: 0, barPercentage: 1, categoryPercentage: 1
      }]
    },
    options: {
      layout: { padding: { top: 6, bottom: 6 } },
      scales: {
        x: { display: false },
        y: {
          position: 'right', min: -1, max: 1,
          afterBuildTicks: function (s) { s.ticks = colorbarTicks.map(function (v) { return { value: v }; }); },
          grid: { drawOnChartArea: false, tickLength: 2, color: '#333' },
          border: { display: false },
          ticks: { padding: 0, font: { size: 10 }, color: '#000',
                   callback: function (v) { return String(+v.toFixed(1)); } },
          afterFit: function (s) { s.width = 18; }
        }
      }
    }
  });

  // ---------- C-H ----------
  var xMin = -7.6, xMax = 7.9;
  var allIci = iciScore.concat(iciScoreB);

  var panels = [
    { rect: [71, 369, 229, 527], name: 'CD274', ys: cd274Expr.concat(cd274ExprB), yMin: 0.33, yMax: 7.2, yStep: 1, yMajor: 2,
      fit: cd274Fit, upper: cd274Upper, lower: cd274Lower, grid: cd274Grid, dens: cd274Density,
      stat: ['R', ' = 0.15, ', 'p', ' = 0.00076'], statAt: [6, 12], big: false },
    { rect: [325, 363, 476, 515], name: 'HAVCR2', ys: havcr2Expr.concat(havcr2ExprB), yMin: 0.88, yMax: 7.0, yStep: 0.5, yMajor: 1,
      fit: havcr2Fit, upper: havcr2Upper, lower: havcr2Lower, grid: havcr2Grid, dens: havcr2Density,
      stat: ['R', ' = 0.39, ', 'p', ' < 2.2e\u221216'], statAt: [3, 13], big: true },
    { rect: [575, 363, 733, 521], name: 'PDCD1', ys: pdcd1Expr.concat(pdcd1ExprB), yMin: 0.52, yMax: 6.58, yStep: 1, yMajor: 2,
      fit: pdcd1Fit, upper: pdcd1Upper, lower: pdcd1Lower, grid: pdcd1Grid, dens: pdcd1Density,
      stat: ['R', ' = 0.12, ', 'p', ' = 0.0058'], statAt: [7, 13], big: false },
    { rect: [71, 610, 228, 766], name: 'CTLA4', ys: ctla4Expr.concat(ctla4ExprB), yMin: 0.52, yMax: 5.48, yStep: 0.5, yMajor: 1,
      fit: ctla4Fit, upper: ctla4Upper, lower: ctla4Lower, grid: ctla4Grid, dens: ctla4Density,
      stat: ['R', ' = 0.18, ', 'p', ' = 7.6e\u221205'], statAt: [7, 11], big: false },
    { rect: [317, 606, 475, 762], name: 'IDO1', ys: ido1Expr.concat(ido1ExprB), yMin: 0.33, yMax: 11.5, yStep: 1.5, yMajor: 3,
      fit: ido1Fit, upper: ido1Upper, lower: ido1Lower, grid: ido1Grid, dens: ido1Density,
      stat: ['R', ' = 0.089, ', 'p', ' = 0.048'], statAt: [7, 12], big: false },
    { rect: [575, 607, 732, 762], name: 'PDCD1LG2', ys: pdcd1lg2Expr.concat(pdcd1lg2ExprB), yMin: 0.53, yMax: 5.13, yStep: 0.5, yMajor: 1,
      fit: pdcd1lg2Fit, upper: pdcd1lg2Upper, lower: pdcd1lg2Lower, grid: pdcd1lg2Grid, dens: pdcd1lg2Density,
      stat: ['R', ' = 0.39, ', 'p', ' < 2.2e\u221216'], statAt: [6, 12], big: false }
  ];

  var framePlugin = {
    id: 'frame',
    afterDraw: function (chart, args, opts) {
      var a = chart.chartArea, ctx = chart.ctx;
      ctx.save();
      ctx.strokeStyle = colors.frame;
      ctx.lineWidth = 1;
      ctx.strokeRect(Math.round(a.left) + 0.5, Math.round(a.top) + 0.5,
                     Math.round(a.right - a.left) - 1, Math.round(a.bottom - a.top) - 1);
      ctx.fillStyle = '#222';
      ctx.textBaseline = 'middle';
      var x = a.left + opts.at[0], y = a.top + opts.at[1];
      opts.parts.forEach(function (t, i) {
        ctx.font = (i % 2 === 0 ? 'italic ' : '') + opts.size + 'px ' + FONT;
        ctx.fillText(t, x, y);
        x += ctx.measureText(t).width;
      });
      ctx.restore();
    }
  };

  panels.forEach(function (p) {
    var L = p.rect[0], T = p.rect[1], R = p.rect[2], B = p.rect[3];
    var yw = p.big ? 27 : 20, xh = p.big ? 27 : 18;
    var tickSize = p.big ? 8.5 : 6.5, titleSize = p.big ? 10 : 7.5, statSize = p.big ? 10.5 : 7.5;

    var gridStyle = function (step) {
      return {
        color: function (c) { return c.tick && isMajor(c.tick.value, step) ? '#e2e2e2' : '#f0f0f0'; },
        lineWidth: function (c) { return c.tick && isMajor(c.tick.value, step) ? 1 : 0.6; },
        tickLength: 2,
        tickColor: function (c) { return c.tick && isMajor(c.tick.value, step) ? '#666' : 'rgba(0,0,0,0)'; }
      };
    };

    new Chart(makeCanvas(L - yw, T, R - L + yw, B - T + xh), {
      type: 'scatter',
      data: {
        datasets: [
          { type: 'line', data: fitX.map(function (x, i) { return { x: x, y: p.fit[i] }; }),
            borderColor: colors.fitLine, borderWidth: 1.6, pointRadius: 0, fill: false },
          { type: 'line', data: fitX.map(function (x, i) { return { x: x, y: p.upper[i] }; }),
            borderWidth: 0, pointRadius: 0, fill: '+1', backgroundColor: colors.band, cubicInterpolationMode: 'monotone' },
          { type: 'line', data: fitX.map(function (x, i) { return { x: x, y: p.lower[i] }; }),
            borderWidth: 0, pointRadius: 0, fill: false, cubicInterpolationMode: 'monotone' },
          { data: allIci.map(function (x, i) { return { x: x, y: p.ys[i] }; }),
            pointRadius: 1.7, backgroundColor: colors.point, borderWidth: 0 }
        ]
      },
      options: {
        scales: {
          x: {
            type: 'linear', min: xMin, max: xMax,
            grid: gridStyle(4),
            border: { display: false },
            ticks: { stepSize: 2, includeBounds: false, autoSkip: false, maxRotation: 0, padding: 0,
                     font: { size: tickSize }, color: '#4d4d4d',
                     callback: function (v) { return isMajor(v, 4) ? v : ''; } },
            title: { display: true, text: 'ICI score', font: { size: titleSize }, color: '#222', padding: { top: 0, bottom: 2 } },
            afterFit: function (s) { s.height = xh; }
          },
          y: {
            type: 'linear', min: p.yMin, max: p.yMax,
            grid: gridStyle(p.yMajor),
            border: { display: false },
            ticks: { stepSize: p.yStep, includeBounds: false, autoSkip: false, padding: 1,
                     font: { size: tickSize }, color: '#4d4d4d',
                     callback: function (v) { return isMajor(v, p.yMajor) ? v : ''; } },
            title: { display: true, text: p.name, font: { size: titleSize }, color: '#222', padding: { top: 3, bottom: 1 } },
            afterFit: function (s) { s.width = yw; }
          }
        },
        plugins: { frame: { at: p.statAt, parts: p.stat, size: statSize } }
      },
      plugins: [framePlugin]
    });

    // top marginal density of ICI score
    new Chart(makeCanvas(L, T - 32, R - L, 30), {
      type: 'line',
      data: {
        datasets: [{
          data: iciGrid.map(function (x, i) { return { x: x, y: iciDensity[i] }; }),
          fill: 'origin', backgroundColor: colors.orange, borderColor: '#222', borderWidth: 0.8,
          pointRadius: 0, cubicInterpolationMode: 'monotone'
        }]
      },
      options: {
        scales: {
          x: { type: 'linear', display: false, min: xMin, max: xMax },
          y: { display: false, min: 0, max: 1.04 }
        }
      }
    });

    // right marginal density of the gene
    new Chart(makeCanvas(R + 1, T, 31, B - T), {
      type: 'line',
      data: {
        datasets: [{
          data: p.grid.map(function (v, i) { return { x: p.dens[i], y: v }; }),
          fill: 'origin', backgroundColor: colors.navy, borderColor: '#222', borderWidth: 0.8,
          pointRadius: 0, cubicInterpolationMode: 'monotone'
        }]
      },
      options: {
        indexAxis: 'y',
        scales: {
          x: { type: 'linear', display: false, min: 0, max: 1.04 },
          y: { type: 'linear', display: false, min: p.yMin, max: p.yMax }
        }
      }
    });
  });
</script>
</body>
</html>
